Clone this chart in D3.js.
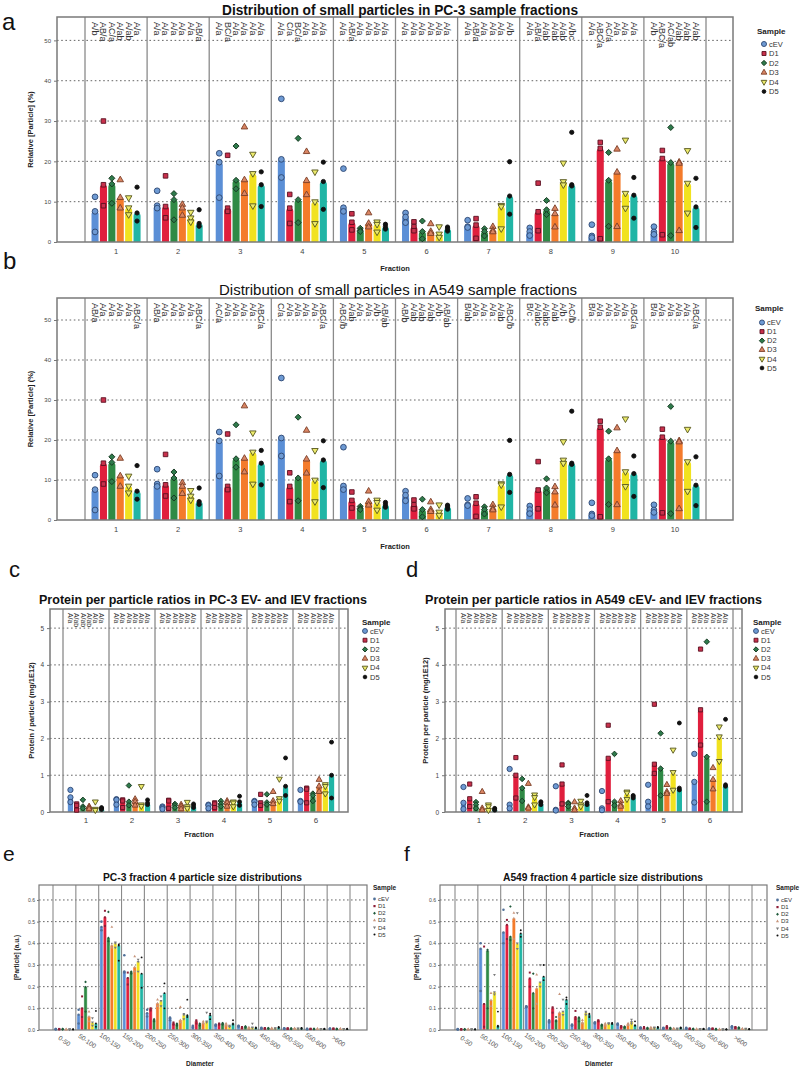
<!DOCTYPE html>
<html><head><meta charset="utf-8">
<script src="https://cdn.jsdelivr.net/npm/d3@7"></script>
<style>body{margin:0;background:#fff} svg{display:block} text{font-family:"Liberation Sans",Arial,sans-serif}</style>
</head><body><svg id="c" width="800" height="1077"></svg>
<script>
// ---------------- DATA ----------------
const samples = ["cEV","D1","D2","D3","D4","D5"];
const fractions10 = ["1","2","3","4","5","6","7","8","9","10"];
const fractions6 = ["1","2","3","4","5","6"];
const diameters = ["0-50","50-100","100-150","150-200","200-250","250-300","300-350","350-400","400-450","450-500","500-550","550-600",">600"];
const ticksDist = [0,10,20,30,40,50];
const ticksProt = [0,1,2,3,4,5];
const ticksSize = [0,0.1,0.2,0.3,0.4,0.5,0.6];

// Relative [Particle] (%) - three replicates per fraction (bar = median)
const dist_cEV = [[11.2,7.6,2.5],[12.7,9.0,8.4],[22.0,19.8,11.0],[35.5,20.5,16.0],[18.2,8.5,7.6],[7.2,6.2,4.8],[5.4,3.8,3.6],[3.5,2.6,1.6],[4.3,1.5,1.1],[3.8,2.5,1.9]];
const dist_D1  = [[30.0,14.2,9.0],[16.4,8.8,6.0],[21.5,8.4,7.6],[11.8,8.4,4.6],[7.0,4.9,3.0],[5.0,3.8,2.8],[5.8,4.2,0.9],[14.6,7.5,2.8],[24.7,23.2,0.8],[22.7,20.7,1.8]];
const dist_D2  = [[15.8,14.4,9.6],[12.0,10.5,5.5],[23.8,15.3,13.2],[25.7,10.5,4.8],[3.4,2.9,2.6],[5.2,2.6,0.8],[3.3,2.6,1.5],[10.3,8.0,6.8],[22.2,15.3,3.9],[28.4,19.7,1.6]];
const dist_D3  = [[15.4,11.0,8.4],[9.3,8.4,6.6],[28.5,15.4,12.0],[22.4,15.2,11.7],[7.2,4.6,3.7],[4.5,2.6,2.1],[3.8,2.9,2.5],[8.3,7.0,3.7],[23.0,17.3,3.8],[19.8,19.5,2.8]];
const dist_D4  = [[11.0,8.5,6.8],[7.4,6.0,5.0],[21.8,17.0,9.0],[17.4,10.0,4.6],[5.0,4.4,2.5],[3.8,2.0,1.2],[9.1,8.8,3.3],[19.6,15.0,14.2],[25.3,12.1,8.4],[22.7,14.6,7.2]];
const dist_D5  = [[13.6,7.2,5.2],[8.0,4.6,3.9],[17.4,14.2,8.8],[19.8,15.0,8.1],[4.4,3.8,3.2],[3.7,3.3,2.7],[19.9,11.4,6.9],[27.2,14.2,13.9],[16.0,11.6,5.9],[15.8,8.7,3.6]];

const lettersPC3 = [
 ["A/b","AB/a","AC/a","A/ab","A/ab","A/a"],
 ["A/a","A/a","A/a","A/a","A/a","AB/a"],
 ["A/a","BC/a","A/a","A/a","A/a","A/a"],
 ["A/a","C/a","BC/a","A/a","A/a","A/a"],
 ["A/a","AB/a","A/a","A/a","A/a","A/a"],
 ["A/a","A/a","A/a","A/a","A/a","A/a"],
 ["A/a","AB/a","A/a","A/a","A/a","A/b"],
 ["A/a","AB/a","A/ab","A/ab","A/ab","A/bc"],
 ["A/a","ABC/a","AC/a","A/a","A/a","A/a"],
 ["A/b","ABC/a","AC/ab","A/ab","A/ab","A/ab"]];
const lettersA549 = [
 ["AB/a","A/a","A/a","A/a","A/a","ABC/a"],
 ["AB/a","A/a","A/a","A/a","A/a","ABC/a"],
 ["AC/a","A/a","A/a","A/a","A/a","ABC/a"],
 ["C/a","A/a","A/a","A/a","A/a","ABC/a"],
 ["ABC/b","A/ab","A/a","A/a","A/b","AB/ab"],
 ["AB/b","A/ab","A/ab","A/ab","A/b","AB/ab"],
 ["B/ab","A/a","A/a","A/a","A/ab","ABC/b"],
 ["B/c","A/abc","A/abc","A/ab","A/b","AC/b"],
 ["B/a","A/a","A/a","A/a","A/a","ABC/a"],
 ["B/a","A/a","A/a","A/a","A/a","ABC/a"]];

// Protein per particle (mg/1E12)
const protPC3_cEV = [[0.6,0.4,0.27],[0.35,0.33,0.2],[0.15,0.12,0.08],[0.2,0.18,0.1],[0.3,0.28,0.2],[0.6,0.3,0.28]];
const protPC3_D1  = [[0.22,0.18,0.05],[0.33,0.3,0.12],[0.32,0.3,0.1],[0.25,0.22,0.12],[0.48,0.25,0.18],[0.65,0.62,0.25]];
const protPC3_D2  = [[0.33,0.15,0.1],[0.72,0.28,0.18],[0.22,0.18,0.12],[0.3,0.22,0.15],[0.48,0.26,0.2],[0.5,0.45,0.3]];
const protPC3_D3  = [[0.15,0.12,0.08],[0.35,0.28,0.18],[0.2,0.15,0.08],[0.3,0.25,0.15],[0.55,0.3,0.22],[0.88,0.7,0.55]];
const protPC3_D4  = [[0.28,0.08,0.05],[0.7,0.2,0.16],[0.27,0.15,0.1],[0.28,0.25,0.15],[0.9,0.37,0.3],[0.75,0.7,0.5]];
const protPC3_D5  = [[0.12,0.1,0.07],[0.33,0.25,0.2],[0.22,0.18,0.12],[0.43,0.28,0.18],[1.47,0.7,0.45],[1.9,1.0,0.38]];

const protA549_cEV = [[0.68,0.25,0.08],[1.17,0.2,0.1],[0.7,0.06,0.04],[0.57,0.1,0.05],[0.74,0.28,0.15],[1.58,0.82,0.26]];
const protA549_D1  = [[0.76,0.36,0.15],[1.48,1.0,0.38],[1.28,0.76,0.22],[2.36,1.46,0.28],[2.93,1.3,1.05],[4.43,2.78,1.82]];
const protA549_D2  = [[0.27,0.2,0.1],[0.9,0.65,0.3],[0.25,0.22,0.15],[1.58,0.28,0.18],[2.14,1.18,0.45],[4.63,1.5,0.28]];
const protA549_D3  = [[0.55,0.1,0.05],[0.77,0.13,0.1],[0.27,0.1,0.05],[0.3,0.2,0.15],[0.74,0.55,0.5],[1.2,0.88,0.62]];
const protA549_D4  = [[0.2,0.15,0.05],[0.47,0.4,0.2],[0.3,0.2,0.15],[0.55,0.52,0.35],[1.69,1.08,0.6],[2.32,2.05,1.38]];
const protA549_D5  = [[0.1,0.08,0.05],[0.28,0.25,0.2],[0.45,0.25,0.2],[0.45,0.42,0.38],[2.42,0.65,0.6],[2.52,0.74,0.7]];

const lettersProtPC3 = [
 ["A/a","A/ab","A/ab","A/ab","A/a","A/a"],["A/a","A/a","A/a","A/a","A/a","A/a"],["A/a","A/a","A/a","A/a","A/a","A/a"],
 ["A/a","A/a","A/a","A/a","A/a","A/a"],["A/a","A/a","A/a","A/a","A/a","A/a"],["A/a","A/a","A/a","A/a","A/a","A/a"]];
const lettersProtA549 = [
 ["A/a","A/a","A/a","A/a","A/a","A/a"],["A/a","A/a","A/a","A/a","A/a","A/a"],["A/a","A/a","A/a","A/a","A/a","A/a"],
 ["A/a","A/a","A/a","A/a","A/a","A/a"],["A/a","A/a","A/a","A/a","A/a","A/a"],["A/a","A/a","A/a","A/a","A/a","A/a"]];

// [Particle] (a.u.) by diameter, fraction 4
const sizePC3_cEV = [[0.005,0.004,0.003],[0.093,0.07,0.03],[0.5,0.475,0.46],[0.345,0.27,0.265],[0.093,0.077,0.062],[0.058,0.054,0.045],[0.02,0.015,0.01],[0.025,0.022,0.02],[0.02,0.018,0.015],[0.01,0.008,0.006],[0.008,0.007,0.005],[0.006,0.005,0.004],[0.007,0.006,0.005]];
const sizePC3_D1  = [[0.005,0.004,0.003],[0.155,0.1,0.06],[0.55,0.52,0.48],[0.265,0.24,0.21],[0.1,0.098,0.09],[0.035,0.03,0.025],[0.045,0.04,0.03],[0.03,0.028,0.025],[0.014,0.012,0.01],[0.009,0.008,0.006],[0.008,0.007,0.005],[0.006,0.005,0.004],[0.007,0.006,0.005]];
const sizePC3_D2  = [[0.005,0.004,0.003],[0.222,0.198,0.085],[0.545,0.425,0.41],[0.27,0.265,0.26],[0.05,0.046,0.04],[0.03,0.025,0.02],[0.03,0.025,0.02],[0.032,0.03,0.025],[0.017,0.015,0.012],[0.009,0.008,0.006],[0.008,0.007,0.005],[0.006,0.005,0.004],[0.006,0.005,0.004]];
const sizePC3_D3  = [[0.004,0.003,0.002],[0.085,0.062,0.04],[0.475,0.39,0.38],[0.34,0.29,0.27],[0.14,0.123,0.11],[0.105,0.046,0.035],[0.04,0.034,0.03],[0.03,0.025,0.02],[0.012,0.01,0.008],[0.009,0.007,0.006],[0.008,0.007,0.005],[0.006,0.005,0.004],[0.006,0.005,0.004]];
const sizePC3_D4  = [[0.004,0.003,0.002],[0.055,0.035,0.02],[0.405,0.4,0.38],[0.325,0.315,0.27],[0.155,0.135,0.11],[0.075,0.07,0.05],[0.08,0.04,0.035],[0.02,0.017,0.015],[0.03,0.012,0.01],[0.009,0.008,0.006],[0.008,0.007,0.005],[0.006,0.005,0.004],[0.006,0.005,0.004]];
const sizePC3_D5  = [[0.004,0.003,0.002],[0.088,0.03,0.015],[0.395,0.39,0.32],[0.335,0.26,0.195],[0.215,0.17,0.1],[0.14,0.068,0.06],[0.075,0.068,0.05],[0.045,0.03,0.025],[0.012,0.01,0.008],[0.014,0.012,0.01],[0.01,0.008,0.006],[0.006,0.005,0.004],[0.006,0.005,0.004]];

const sizeA549_cEV = [[0.004,0.003,0.002],[0.4,0.375,0.18],[0.555,0.45,0.4],[0.11,0.108,0.105],[0.045,0.04,0.035],[0.025,0.022,0.02],[0.035,0.034,0.03],[0.03,0.027,0.024],[0.012,0.01,0.008],[0.01,0.008,0.006],[0.01,0.008,0.006],[0.007,0.006,0.005],[0.017,0.015,0.012]];
const sizeA549_D1  = [[0.004,0.003,0.002],[0.385,0.12,0.015],[0.508,0.485,0.42],[0.265,0.238,0.2],[0.105,0.1,0.08],[0.088,0.06,0.05],[0.045,0.043,0.04],[0.018,0.016,0.014],[0.014,0.012,0.01],[0.018,0.015,0.012],[0.007,0.006,0.005],[0.007,0.006,0.005],[0.014,0.012,0.01]];
const sizeA549_D2  = [[0.004,0.003,0.002],[0.37,0.365,0.1],[0.57,0.43,0.415],[0.26,0.17,0.1],[0.06,0.045,0.04],[0.058,0.055,0.04],[0.025,0.022,0.02],[0.016,0.014,0.012],[0.01,0.008,0.006],[0.01,0.008,0.006],[0.006,0.005,0.004],[0.005,0.004,0.003],[0.012,0.01,0.008]];
const sizeA549_D3  = [[0.004,0.003,0.002],[0.17,0.138,0.11],[0.54,0.515,0.42],[0.255,0.192,0.12],[0.165,0.08,0.06],[0.045,0.035,0.03],[0.03,0.026,0.02],[0.03,0.026,0.022],[0.012,0.01,0.008],[0.008,0.006,0.005],[0.005,0.004,0.003],[0.004,0.003,0.002],[0.006,0.005,0.004]];
const sizeA549_D4  = [[0.004,0.003,0.002],[0.255,0.175,0.165],[0.54,0.4,0.375],[0.3,0.22,0.2],[0.14,0.085,0.07],[0.085,0.08,0.07],[0.032,0.03,0.028],[0.048,0.038,0.03],[0.012,0.01,0.008],[0.008,0.006,0.005],[0.006,0.005,0.004],[0.004,0.003,0.002],[0.007,0.006,0.005]];
const sizeA549_D5  = [[0.004,0.003,0.002],[0.085,0.02,0.015],[0.46,0.445,0.43],[0.3,0.246,0.23],[0.15,0.14,0.12],[0.075,0.07,0.06],[0.033,0.03,0.028],[0.04,0.022,0.02],[0.014,0.012,0.01],[0.012,0.01,0.008],[0.006,0.005,0.004],[0.004,0.003,0.002],[0.005,0.004,0.003]];

// ---------------- STYLE ----------------
const barColors = ["#5b8fd6","#e01f3d","#2f8a45","#f47b2b","#f1e21f","#20b5a5"];
const palBig = {fill:["#6e9ad3","#c9304b","#2e7a4b","#d98563","#ecea6c","#111111"],
                stroke:["#2c4670","#5a1020","#15381f","#7a3d26","#55551c","#111111"], sw:0.9};
const palSmall = {fill:["#4f7099","#8e1e37","#1f5a3a","#c7957c","#7a7a7a","#111111"],
                  stroke:["#4f7099","#8e1e37","#1f5a3a","#c7957c","#7a7a7a","#111111"], sw:0};
const svg = d3.select("#c");

function marker(g, si, x, y, size, pal){
  let d, rot = 0;
  if (si===0) d = d3.symbol(d3.symbolCircle, size)();
  else if (si===1) d = d3.symbol(d3.symbolSquare, size*0.8)();
  else if (si===2) { d = d3.symbol(d3.symbolSquare, size*0.7)(); rot = 45; }
  else if (si===3) d = d3.symbol(d3.symbolTriangle, size*0.7)();
  else if (si===4) { d = d3.symbol(d3.symbolTriangle, size*0.7)(); rot = 180; }
  else d = d3.symbol(d3.symbolCircle, size*0.55)();
  g.append("path").attr("d", d).attr("transform", `translate(${x},${y}) rotate(${rot})`)
   .attr("fill", pal.fill[si]).attr("stroke", pal.stroke[si]).attr("stroke-width", pal.sw);
}

function roundTop(x, y, w, h, r){
  r = Math.min(r, w/2, h/2);
  if (h <= 0) return "";
  return `M${x},${y+h}V${y+r}Q${x},${y} ${x+r},${y}H${x+w-r}Q${x+w},${y} ${x+w},${y+r}V${y+h}Z`;
}

function legend(c){
  const g = svg.append("g");
  g.append("text").attr("x", c.lx).attr("y", c.ly).attr("font-size", c.lhs).attr("font-weight","bold").attr("fill","#222").text("Sample");
  samples.forEach((s,i)=>{
    const yy = c.ly0 + i*c.lstep;
    marker(g, i, c.lx + c.lmx, yy, c.lms, c.pal);
    g.append("text").attr("x", c.lx + c.ltx).attr("y", yy).attr("dy","0.35em").attr("font-size", c.lfs).attr("fill","#333").text(s);
  });
}

function panel(c){
  const g = svg.append("g");
  const x = d3.scaleBand().domain(c.cats).range([c.bx0, c.bx1]);
  const bw = x.bandwidth();
  const xi = d3.scaleBand().domain(samples).range([bw*c.inL, bw*(1-c.inL)]).paddingInner(c.pi);
  const y = d3.scaleLinear().domain([0, c.yMax]).range([c.y1, c.y0]);
  g.selectAll(null).data(c.yTicks.filter(t=>t>0)).join("line")
    .attr("x1", c.x0).attr("x2", c.x1).attr("y1", d=>y(d)).attr("y2", d=>y(d))
    .attr("stroke","#555").attr("stroke-width",0.9).attr("stroke-dasharray", c.dash);
  samples.forEach((s,si)=>{
    const pts = c.data[si];
    g.selectAll(null).data(c.cats).join("path")
      .attr("d",(cat,ci)=>{const m = d3.median(pts[ci]); const x0 = x(cat)+xi(s);
         return roundTop(x0, y(m), xi.bandwidth(), y(0)-y(m), c.rx);})
      .attr("fill", barColors[si]).attr("stroke", c.barStroke || "none").attr("stroke-width",0.4);
  });
  g.selectAll(null).data(d3.range(c.cats.length+1)).join("line")
    .attr("x1", i=>c.bx0 + i*bw).attr("x2", i=>c.bx0 + i*bw).attr("y1", c.y0).attr("y2", c.y1)
    .attr("stroke","#8a8a8a").attr("stroke-width", c.divW);
  g.append("rect").attr("x", c.x0).attr("y", c.y0).attr("width", c.x1-c.x0).attr("height", c.y1-c.y0)
    .attr("fill","none").attr("stroke","#7a7a7a").attr("stroke-width", c.frameW);
  samples.forEach((s,si)=>{
    c.cats.forEach((cat,ci)=>{
      c.data[si][ci].forEach(v=>{
        marker(g, si, x(cat)+xi(s)+xi.bandwidth()/2, y(v), c.ms, c.pal);
      });
    });
  });
  if (c.letters){
    c.cats.forEach((cat,ci)=>{
      samples.forEach((s,si)=>{
        const xx = x(cat)+xi(s)+xi.bandwidth()/2, yy = c.y0 + c.letOff;
        g.append("text").attr("x", xx).attr("y", yy).attr("dy","0.35em")
          .attr("transform", `rotate(90,${xx},${yy})`).attr("font-size", c.letSize).attr("fill","#333")
          .text(c.letters[ci][si]);
      });
    });
  }
  const ya = g.append("g").attr("transform", `translate(${c.x0},0)`)
    .call(d3.axisLeft(y).tickValues(c.yTicks).tickSize(c.tickLen).tickPadding(c.tickPad).tickFormat(c.fmt));
  ya.select(".domain").remove();
  ya.selectAll("line").attr("stroke","#777");
  ya.selectAll("text").attr("font-size", c.ytfs).attr("fill","#444").attr("font-family","Liberation Sans, Arial, sans-serif");
  if (c.rotTicks){
    c.cats.forEach(cat=>{
      const xx = x(cat)+bw/2, yy = c.tickY;
      g.append("text").attr("x",xx).attr("y",yy).attr("text-anchor","middle").attr("dy","0.35em")
        .attr("transform",`rotate(35,${xx},${yy})`).attr("font-size", c.xtfs).attr("fill","#555").text(cat);
    });
  } else {
    g.selectAll(null).data(c.cats).join("text").attr("x", d=>x(d)+bw/2).attr("y", c.tickY)
      .attr("text-anchor","middle").attr("font-size", c.xtfs).attr("fill","#444").text(d=>d);
  }
  g.append("text").attr("x", c.xlabX).attr("y", c.xlabY).attr("text-anchor","middle").attr("font-size", c.labfs)
    .attr("font-weight","bold").attr("fill","#222").text(c.xlab);
  const yc = (c.y0+c.y1)/2;
  g.append("text").attr("x", c.ylabX).attr("y", yc).attr("text-anchor","middle").attr("dy","0.35em")
    .attr("transform",`rotate(-90,${c.ylabX},${yc})`).attr("font-size", c.labfs).attr("font-weight","bold").attr("fill","#222").text(c.ylab);
  g.append("text").attr("x", c.tx).attr("y", c.ty).attr("font-size", c.tfs).attr("font-weight", c.tw)
    .attr("fill","#111").attr("textLength", c.tlen).attr("lengthAdjust","spacingAndGlyphs").text(c.title);
  g.append("text").attr("x", c.px).attr("y", c.py).attr("font-size", c.pfs).attr("fill","#111").text(c.plet);
  legend(c);
}

const common10 = {cats:fractions10, bx0:85, bx1:706, x0:57, x1:733, inL:0.105, pi:0.16, rx:3, dash:"1.6,2.6",
  divW:1.3, frameW:1.5, ms:26, pal:palBig, letSize:9, letOff:5, tickLen:3, tickPad:3, ytfs:6, fmt:d3.format("d"),
  xtfs:7.5, labfs:7.5, xlab:"Fraction", ylab:"Relative [Particle] (%)", ylabX:30, xlabX:395, tfs:14, tlen:356, pfs:24,
  lhs:8, lfs:7.5, lmx:7, ltx:12, lms:20, yTicks:ticksDist};

panel(Object.assign({}, common10, {
  y0:17, y1:242, yMax:55.8, data:[dist_cEV,dist_D1,dist_D2,dist_D3,dist_D4,dist_D5], letters:lettersPC3,
  tickY:254, xlabY:271, title:"Distribution of small particles in PC-3 sample fractions", tx:222, ty:15, tw:"bold",
  px:2, py:30, plet:"a", lx:757, ly:34, ly0:44, lstep:9.5}));

panel(Object.assign({}, common10, {
  y0:298, y1:520, yMax:55.5, data:[dist_cEV,dist_D1,dist_D2,dist_D3,dist_D4,dist_D5], letters:lettersA549,
  tickY:532, xlabY:549, title:"Distribution of small particles in A549 sample fractions", tx:219, ty:295, tw:"normal", tlen:358,
  px:3, py:269, plet:"b", lx:755, ly:311, ly0:322.5, lstep:9.1}));

const common6 = {cats:fractions6, y0:609, y1:812, yMax:5.52, inL:0.105, pi:0.16, rx:2.4, dash:"1.6,2.6",
  divW:1.3, frameW:1.5, ms:22, pal:palBig, letSize:6.8, letOff:4, tickLen:3, tickPad:3, ytfs:6.5, fmt:d3.format("d"),
  xtfs:8, labfs:7.5, xlab:"Fraction", tickY:823, xlabY:837, tfs:13, tw:"bold", pfs:22, py:577,
  lhs:8, lfs:7.5, lmx:3, ltx:8, lms:19, ly:625, ly0:631, lstep:9.2, yTicks:ticksProt, ylabX:31};

panel(Object.assign({}, common6, {
  bx0:63, bx1:339, x0:50, x1:348, data:[protPC3_cEV,protPC3_D1,protPC3_D2,protPC3_D3,protPC3_D4,protPC3_D5],
  letters:lettersProtPC3, xlabX:199, ylab:"Protein / particle (mg/1E12)",
  title:"Protein per particle ratios in PC-3 EV- and lEV fractions", tx:39, ty:604, tlen:328,
  px:9, plet:"c", lx:362}));

panel(Object.assign({}, common6, {
  bx0:456, bx1:733, x0:445, x1:742, data:[protA549_cEV,protA549_D1,protA549_D2,protA549_D3,protA549_D4,protA549_D5],
  letters:lettersProtA549, xlabX:594, ylab:"Protein per particle (mg/1E12)", ylabX:425,
  title:"Protein per particle ratios in A549 cEV- and lEV fractions", tx:425, ty:604, tlen:337,
  px:406, plet:"d", lx:753}));

const commonSize = {cats:diameters, y0:885, y1:1030, yMax:0.669, inL:0.05, pi:0.06, rx:0, dash:"1.6,2.4",
  divW:1.1, frameW:1.2, ms:5, pal:palSmall, letters:null, tickLen:2, tickPad:2, ytfs:5, fmt:d3.format(".1f"),
  xtfs:6.5, labfs:6.5, xlab:"Diameter", tickY:1041, xlabY:1066, tfs:11, tw:"bold", pfs:21, py:861,
  lhs:6.5, lfs:6, lmx:1.5, ltx:5, lms:6, ly:890, ly0:899, lstep:7.1, yTicks:ticksSize, rotTicks:true,
  ylab:"[Particle] (a.u.)", barStroke:"#ffffff"};

panel(Object.assign({}, commonSize, {
  bx0:53, bx1:350, x0:39, x1:367, data:[sizePC3_cEV,sizePC3_D1,sizePC3_D2,sizePC3_D3,sizePC3_D4,sizePC3_D5],
  xlabX:200, ylabX:17, title:"PC-3 fraction 4 particle size distributions", tx:103, ty:881, tlen:199,
  px:3, plet:"e", lx:373}));

panel(Object.assign({}, commonSize, {
  bx0:455, bx1:752, x0:440, x1:767, data:[sizeA549_cEV,sizeA549_D1,sizeA549_D2,sizeA549_D3,sizeA549_D4,sizeA549_D5],
  xlabX:599, ylabX:417, title:"A549 fraction 4 particle size distributions", tx:503, ty:881, tlen:200,
  px:404, plet:"f", lx:776, ly0:900}));
</script></body></html>
